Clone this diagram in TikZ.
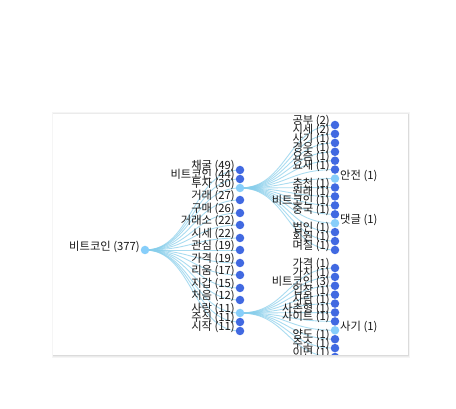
\documentclass[tikz,border=0pt]{standalone}
\usepackage{fontspec}
\setmainfont{Noto Sans CJK KR}
\definecolor{linkc}{RGB}{135,206,235}
\definecolor{dotdark}{RGB}{65,105,225}
\definecolor{dotlight}{RGB}{135,206,250}
\definecolor{txt}{RGB}{25,25,25}
\def\LA{1/170/채굴 (49)/0,2/179/비트코인 (44)/0,3/188/투자 (30)/1,4/200/거래 (27)/0,5/213/구매 (26)/0,6/225/거래소 (22)/0,7/238/시세 (22)/0,8/250/관심 (19)/0,9/263/가격 (19)/0,10/275/리움 (17)/0,11/288/지갑 (15)/0,12/300/처음 (12)/0,13/313/사랑 (11)/1,14/322/주식 (11)/0,15/331/시작 (11)/0}
\def\LB{1/125.0/공부 (2)/0,2/133.9/시세 (2)/0,3/142.9/사기 (1)/0,4/151.8/경우 (1)/0,5/160.7/요즘 (1)/0,6/169.6/요새 (1)/0,7/178.6/안전 (1)/1,8/187.5/추천 (1)/0,9/196.4/원래 (1)/0,10/205.4/비트코인 (1)/0,11/214.3/중국 (1)/0,12/223.2/댓글 (1)/1,13/232.1/법인 (1)/0,14/241.1/회원 (1)/0,15/250/며칠 (1)/0}
\def\LC{1/268/가격 (1)/0,2/276.9/가치 (1)/0,3/285.8/비트코인 (3)/0,4/294.7/입장 (1)/0,5/303.6/사람 (1)/0,6/312.5/사촌형 (1)/0,7/321.4/사이트 (1)/0,8/330.3/사기 (1)/1,9/339.2/양도 (1)/0,10/348.1/주소 (1)/0,11/357/이면 (1)/0}
\begin{document}
\begin{tikzpicture}[x=1pt,y=-1pt,
  lnk/.style={draw=linkc,line width=0.9pt,opacity=0.7},
  nd/.style={circle,inner sep=0pt,minimum size=8.5pt},
  lbl/.style={inner sep=0pt,font=\fontsize{11.3}{12}\selectfont,text=txt}]
\useasboundingbox (0,0) rectangle (456,409);
\fill[white] (0,0) rectangle (456,409);
% card shadow and card
\fill[black!4] (51.5,112.5) rectangle (410,358);
\fill[black!8] (52.5,113.5) rectangle (409.2,356.8);
\fill[black!14] (53,114.5) rectangle (408.6,356);
\fill[white] (53,114) rectangle (408,355);
\begin{scope}
\clip (53,114) rectangle (408,355);
% coordinates
\coordinate (r) at (145,250);
\foreach \i/\y/\t/\k in \LA { \coordinate (a\i) at (240,\y); }
\foreach \i/\y/\t/\k in \LB { \coordinate (b\i) at (335,\y); }
\foreach \i/\y/\t/\k in \LC { \coordinate (c\i) at (335,\y); }
% links
\foreach \i in {1,...,15} { \draw[lnk] (r) .. controls +(47.5,0) and +(-47.5,0) .. (a\i); }
\foreach \i in {1,...,15} { \draw[lnk] (a3) .. controls +(47.5,0) and +(-47.5,0) .. (b\i); }
\foreach \i in {1,...,11} { \draw[lnk] (a13) .. controls +(47.5,0) and +(-47.5,0) .. (c\i); }
% root
\node[lbl,anchor=east] (tr) at (140,247) {비트코인 (377)};
\node[nd,fill=dotlight] (nr) at (r) {};
% level 1
\foreach \i/\y/\t/\k in \LA {
  \ifnum\k=1 \def\dc{dotlight}\else\def\dc{dotdark}\fi
  \node[lbl,anchor=east] (ta\i) at (235,\y-4) {\t};
  \node[nd,fill=\dc] (na\i) at (a\i) {};
}
% level 2 (under 투자)
\foreach \i/\y/\t/\k in \LB {
  \ifnum\k=1
    \node[lbl,anchor=west] (tb\i) at (340,\y-3) {\t};
    \node[nd,fill=dotlight] (nb\i) at (b\i) {};
  \else
    \node[lbl,anchor=east] (tb\i) at (330,\y-4) {\t};
    \node[nd,fill=dotdark] (nb\i) at (b\i) {};
  \fi
}
% level 2 (under 사랑)
\foreach \i/\y/\t/\k in \LC {
  \ifnum\k=1
    \node[lbl,anchor=west] (tc\i) at (340,\y-3) {\t};
    \node[nd,fill=dotlight] (nc\i) at (c\i) {};
  \else
    \node[lbl,anchor=east] (tc\i) at (330,\y-4) {\t};
    \node[nd,fill=dotdark] (nc\i) at (c\i) {};
  \fi
}
\end{scope}
\end{tikzpicture}
\end{document}
